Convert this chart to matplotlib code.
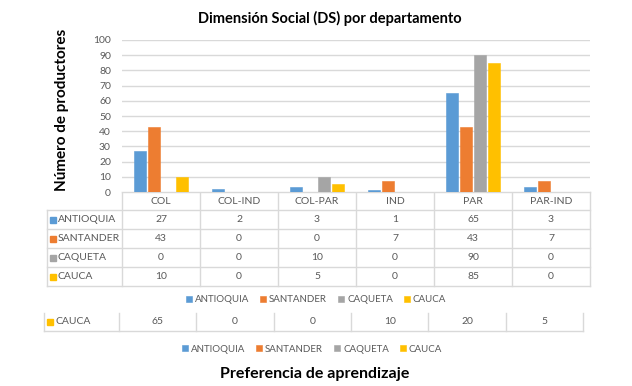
import matplotlib
matplotlib.use("Agg")
import matplotlib.pyplot as plt
import numpy as np

categories = ["COL", "COL-IND", "COL-PAR", "IND", "PAR", "PAR-IND"]
series_names = ["ANTIOQUIA", "SANTANDER", "CAQUETA", "CAUCA"]
antioquia = [27, 2, 3, 1, 65, 3]
santander = [43, 0, 0, 7, 43, 7]
caqueta = [0, 0, 10, 0, 90, 0]
cauca = [10, 0, 5, 0, 85, 0]
extra_row_name = "CAUCA"
extra_row = [65, 0, 0, 10, 20, 5]
yticks = list(range(0, 101, 10))

colors = ["#5B9BD5", "#ED7D31", "#A5A5A5", "#FFC000"]
series = [antioquia, santander, caqueta, cauca]
txt = "#595959"
grid = "#D9D9D9"
FONT = ["Lato", "DejaVu Sans"]
plt.rcParams["font.family"] = FONT

W, H = 632, 386
fig = plt.figure(figsize=(W / 100, H / 100), dpi=100)

# pixel geometry
L, R = 122, 590
Y0, Y100 = 192, 40
ax = fig.add_axes([L / W, 1 - Y0 / H, (R - L) / W, (Y0 - Y100) / H])
x = np.arange(len(categories))
offsets = [-0.27, -0.09, 0.09, 0.27]
handles = []
for s, vals, c, off in zip(series_names, series, colors, offsets):
    b = ax.bar(x + off, vals, width=0.145, color=c, edgecolor=c, linewidth=0.4, label=s, zorder=3)
    handles.append(b)
ax.set_xlim(-0.5, len(categories) - 0.5)
ax.set_ylim(0, 100)
ax.set_yticks(yticks)
ax.set_yticklabels([str(t) for t in yticks], color=txt, fontsize=7.5)
ax.set_xticks([])
ax.tick_params(axis="y", length=0, pad=8)
ax.grid(axis="y", color=grid, linewidth=1, zorder=0)
for sp in ax.spines.values():
    sp.set_visible(False)

# overlay in pixel coordinates for the data table
ov = fig.add_axes([0, 0, 1, 1], zorder=-1)
ov.set_xlim(0, W)
ov.set_ylim(H, 0)
ov.axis("off")
ov.patch.set_alpha(0)

colw = (R - L) / len(categories)
rows_y = [192, 210, 229, 248, 267, 286]
TL = 47
lc = "#D9D9D9"
ov.plot([L, R], [rows_y[0], rows_y[0]], color=lc, lw=1)
for yy in rows_y[1:]:
    ov.plot([TL, R], [yy, yy], color=lc, lw=1)
for k in range(len(categories) + 1):
    xx = L + k * colw
    ov.plot([xx, xx], [rows_y[0], rows_y[-1]], color=lc, lw=1)
ov.plot([TL, TL], [rows_y[1], rows_y[-1]], color=lc, lw=1)

for k, cat in enumerate(categories):
    ov.text(L + (k + 0.5) * colw, (rows_y[0] + rows_y[1]) / 2, cat, ha="center", va="center",
            color=txt, fontsize=7.5)
for r, (s, vals, c) in enumerate(zip(series_names, series, colors)):
    yc = (rows_y[r + 1] + rows_y[r + 2]) / 2
    ov.add_patch(plt.Rectangle((50, yc - 3), 6, 6, color=c))
    ov.text(58, yc, s, ha="left", va="center", color=txt, fontsize=7.5)
    for k, v in enumerate(vals):
        ov.text(L + (k + 0.5) * colw, yc, str(v), ha="center", va="center", color=txt, fontsize=7.5)

leg_kw = dict(loc="center", ncol=4, frameon=False, fontsize=7, handlelength=0.65,
              handleheight=0.65, handletextpad=0.3, columnspacing=1.1, labelcolor=txt)
fig.legend(handles, series_names, bbox_to_anchor=(316 / W, 1 - 300 / H), **leg_kw)

# extra row
EL, ER = 44, 583
ecolw = (ER - 119) / len(categories)
ey = 322
ov.plot([EL, ER], [331, 331], color=lc, lw=1)
for k in range(len(categories) + 1):
    xx = 119 + k * ecolw
    ov.plot([xx, xx], [313, 331], color=lc, lw=1)
ov.plot([EL, EL], [313, 331], color=lc, lw=1)
ov.add_patch(plt.Rectangle((47, ey - 3), 6, 6, color=colors[3]))
ov.text(55, ey, extra_row_name, ha="left", va="center", color=txt, fontsize=7.5)
for k, v in enumerate(extra_row):
    ov.text(119 + (k + 0.5) * ecolw, ey, str(v), ha="center", va="center", color=txt, fontsize=7.5)

fig.legend(handles, series_names, bbox_to_anchor=(312 / W, 1 - 349 / H), **leg_kw)

fig.text(330 / W, 1 - 18 / H, "Dimensión Social (DS) por departamento", ha="center", va="center",
         fontsize=10.5, fontweight="bold", color="#000000")
fig.text(62 / W, 1 - 110 / H, "Número de productores", ha="center", va="center", rotation=90,
         fontsize=11, fontweight="bold", color="#000000")
fig.text(315 / W, 1 - 374 / H, "Preferencia de aprendizaje", ha="center", va="center",
         fontsize=11.5, fontweight="bold", color="#000000")

fig.savefig("out.png", dpi=100, facecolor="white")
